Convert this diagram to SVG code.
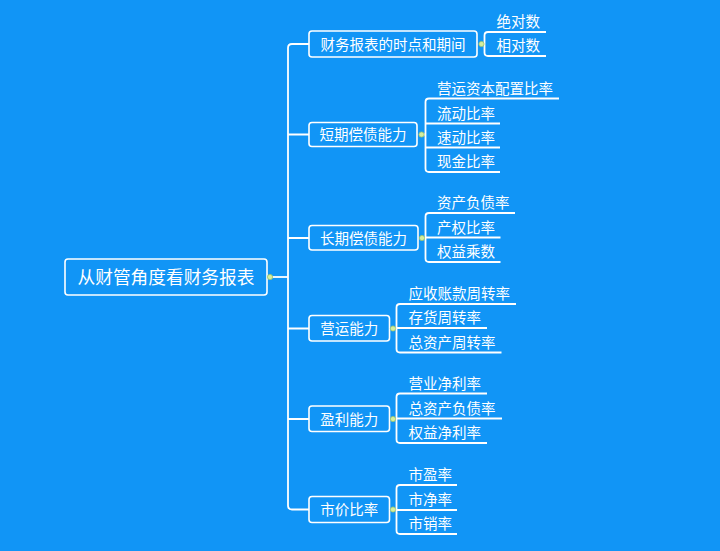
<svg xmlns="http://www.w3.org/2000/svg" width="720" height="551" viewBox="0 0 720 551">
<style>
.bg{fill:#1195f6}
.box{fill:none;stroke:#ffffff;stroke-width:1.6}
.ln{fill:none;stroke:#ffffff;stroke-width:1.8;stroke-linejoin:round}
.t{fill:#ffffff;font-family:"Microsoft YaHei","Noto Sans CJK SC","Noto Sans",sans-serif;font-size:14.5px}
.tc{text-anchor:middle}
.root{font-size:17.7px}
.dot{fill:#d4eea0;stroke:#9cc46a;stroke-width:0.8}
</style>
<rect class="bg" x="0" y="0" width="720" height="551"/>
<g id="connectors">
<path class="ln" d="M270,277 H288"/>
<path class="ln" d="M309,44 H292 Q288,44 288,48 V505.5 Q288,509.5 292,509.5 H309"/>
<path class="ln" d="M288,134.5 H309 M288,238 H309 M288,328.5 H309 M288,419 H309"/>
<path class="ln" d="M481.5,44 H484.5 M546,32 H488 Q484.5,32 484.5,35.5 V52.5 Q484.5,56 488,56 H546"/>
<path class="ln" d="M421.5,134.5 H425.5 M559,98.5 H429 Q425.5,98.5 425.5,102 V168.5 Q425.5,172 429,172 H500 M425.5,123.5 H500 M425.5,147.5 H500"/>
<path class="ln" d="M422,238 H425.5 M515,213 H429 Q425.5,213 425.5,216.5 V258.5 Q425.5,262 429,262 H500.5 M425.5,237.5 H500.5"/>
<path class="ln" d="M393,328.5 H396.5 M516,304 H400 Q396.5,304 396.5,307.5 V349 Q396.5,352.5 400,352.5 H501.5 M396.5,328 H487"/>
<path class="ln" d="M393,419 H396.5 M487,393.5 H400 Q396.5,393.5 396.5,397 V439.5 Q396.5,443 400,443 H487 M396.5,418.5 H502"/>
<path class="ln" d="M393,509.5 H396.5 M457,485 H400 Q396.5,485 396.5,488.5 V530.5 Q396.5,534 400,534 H457 M396.5,510 H457"/>
</g>
<g id="root">
<rect class="box" x="65" y="259" width="202" height="36" rx="3"/>
<text class="t tc root" x="166" y="283.5">从财管角度看财务报表</text>
<circle class="dot" cx="270" cy="277" r="2.6"/>
</g>
<g id="n1">
<rect class="box" x="309" y="31" width="168" height="26" rx="3"/>
<text class="t tc" x="393" y="49.5">财务报表的时点和期间</text>
<circle class="dot" cx="481.5" cy="44" r="2.6"/>
</g>
<g id="n1a"><text class="t" x="496.5" y="27">绝对数</text></g>
<g id="n1b"><text class="t" x="496.5" y="51">相对数</text></g>
<g id="n2">
<rect class="box" x="309" y="122.5" width="108" height="24" rx="3"/>
<text class="t tc" x="363" y="140">短期偿债能力</text>
<circle class="dot" cx="421.5" cy="134.5" r="2.6"/>
</g>
<g id="n2a"><text class="t" x="437" y="93.5">营运资本配置比率</text></g>
<g id="n2b"><text class="t" x="437" y="118.5">流动比率</text></g>
<g id="n2c"><text class="t" x="437" y="142.5">速动比率</text></g>
<g id="n2d"><text class="t" x="437" y="167">现金比率</text></g>
<g id="n3">
<rect class="box" x="309" y="225.5" width="109" height="24.5" rx="3"/>
<text class="t tc" x="363.5" y="243.5">长期偿债能力</text>
<circle class="dot" cx="422" cy="238" r="2.6"/>
</g>
<g id="n3a"><text class="t" x="437" y="208">资产负债率</text></g>
<g id="n3b"><text class="t" x="437" y="232.5">产权比率</text></g>
<g id="n3c"><text class="t" x="437" y="257">权益乘数</text></g>
<g id="n4">
<rect class="box" x="309" y="315.5" width="80.5" height="25.5" rx="3"/>
<text class="t tc" x="349.25" y="334">营运能力</text>
<circle class="dot" cx="393" cy="328.5" r="2.6"/>
</g>
<g id="n4a"><text class="t" x="408.5" y="299">应收账款周转率</text></g>
<g id="n4b"><text class="t" x="408.5" y="323">存货周转率</text></g>
<g id="n4c"><text class="t" x="408.5" y="347.5">总资产周转率</text></g>
<g id="n5">
<rect class="box" x="309" y="406" width="80.5" height="25.5" rx="3"/>
<text class="t tc" x="349.25" y="424.5">盈利能力</text>
<circle class="dot" cx="393" cy="419" r="2.6"/>
</g>
<g id="n5a"><text class="t" x="408.5" y="388.5">营业净利率</text></g>
<g id="n5b"><text class="t" x="408.5" y="413.5">总资产负债率</text></g>
<g id="n5c"><text class="t" x="408.5" y="438">权益净利率</text></g>
<g id="n6">
<rect class="box" x="309" y="496.5" width="80.5" height="26" rx="3"/>
<text class="t tc" x="349.25" y="515">市价比率</text>
<circle class="dot" cx="393" cy="509.5" r="2.6"/>
</g>
<g id="n6a"><text class="t" x="408.5" y="480">市盈率</text></g>
<g id="n6b"><text class="t" x="408.5" y="505">市净率</text></g>
<g id="n6c"><text class="t" x="408.5" y="529">市销率</text></g>
</svg>
